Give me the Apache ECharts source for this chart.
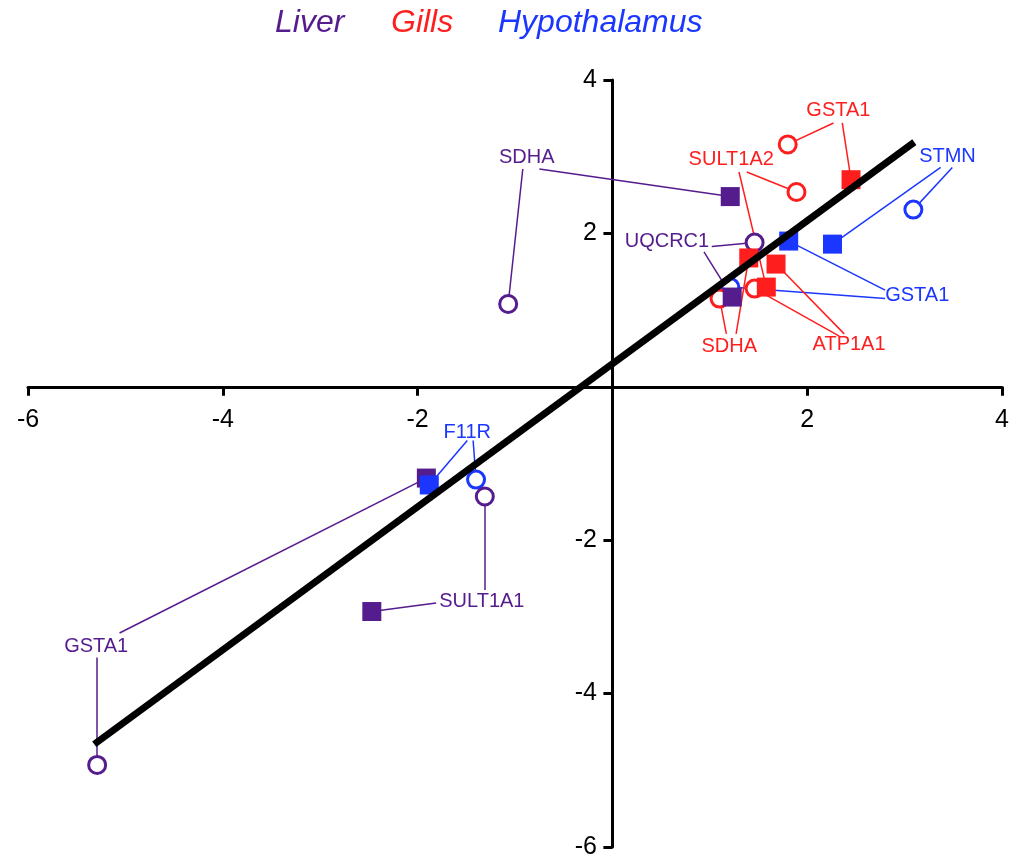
<!DOCTYPE html>
<html>
<head>
<meta charset="utf-8">
<script src="https://cdn.jsdelivr.net/npm/echarts@6/dist/echarts.min.js"></script>
<style>
html,body{margin:0;padding:0;background:#fff;}
#chart{width:1018px;height:861px;}
</style>
</head>
<body>
<div id="chart"></div>
<script>
// ---------------- DATA ----------------
const TISSUES = ['Liver', 'Gills', 'Hypothalamus'];

// Liver
const LIVER_GENES   = ['SDHA', 'UQCRC1', 'GSTA1', 'SULT1A1'];
const LIVER_SQUARE  = [[1.21, 2.48], [1.23, 1.17], [-1.91, -1.19], [-2.47, -2.93]];
const LIVER_CIRCLE  = [[-1.07, 1.08], [1.46, 1.88], [-5.29, -4.93], [-1.31, -1.43]];
// annotation anchors (data units)
const LIVER_LABEL_AT = [[-0.88, 2.99], [0.56, 1.89], [-5.30, -3.39], [-1.34, -2.80]];
const LIVER_LEAD_SQ  = [[-0.75, 2.84], [0.94, 1.76], [-5.06, -3.21], [-1.81, -2.82]];
const LIVER_LEAD_CI  = [[-0.92, 2.84], [1.02, 1.83], [-5.29, -3.53], [-1.31, -2.65]];

// Gills
const GILLS_GENES   = ['GSTA1', 'SULT1A2', 'SDHA', 'ATP1A1'];
const GILLS_SQUARE  = [[2.45, 2.70], [1.58, 1.30], [1.40, 1.68], [1.68, 1.60]];
const GILLS_CIRCLE  = [[1.80, 3.16], [1.89, 2.54], [1.10, 1.15], [1.46, 1.28]];
const GILLS_LABEL_AT = [[2.32, 3.60], [1.22, 2.96], [1.20, 0.52], [2.43, 0.55]];
const GILLS_LEAD_SQ  = [[2.36, 3.44], [1.30, 2.80], [1.27, 0.69], [2.38, 0.69]];
const GILLS_LEAD_CI  = [[2.27, 3.44], [1.38, 2.80], [1.17, 0.69], [2.33, 0.66]];

// Hypothalamus
const HYPO_GENES    = ['STMN', 'GSTA1', 'F11R'];
const HYPO_SQUARE   = [[2.26, 1.86], [1.81, 1.90], [-1.88, -1.28]];
const HYPO_CIRCLE   = [[3.09, 2.31], [1.21, 1.30], [-1.40, -1.21]];
const HYPO_LABEL_AT = [[3.44, 3.00], [3.13, 1.19], [-1.49, -0.59]];
const HYPO_LEAD_SQ  = [[3.37, 2.86], [2.80, 1.26], [-1.49, -0.70]];
const HYPO_LEAD_CI  = [[3.49, 2.86], [2.80, 1.15], [-1.43, -0.70]];

// fitted line end points
const FIT_LINE = [[-5.32, -4.66], [3.10, 3.19]];

// axes
const X_MIN = -6, X_MAX = 4, Y_MIN = -6, Y_MAX = 4, TICK_STEP = 2;
const X_TICK_LABELS = [-6, -4, -2, 2, 4];
const Y_TICK_LABELS = [-6, -4, -2, 2, 4];

// ---------------- STYLE ----------------
const COLORS = { Liver: '#551C8E', Gills: '#FF1E1E', Hypothalamus: '#1B37FF' };
const FONT = '"Liberation Sans", Arial, sans-serif';

const groups = [
  { name: 'Hypothalamus', genes: HYPO_GENES, sq: HYPO_SQUARE, ci: HYPO_CIRCLE, lab: HYPO_LABEL_AT, lsq: HYPO_LEAD_SQ, lci: HYPO_LEAD_CI },
  { name: 'Gills', genes: GILLS_GENES, sq: GILLS_SQUARE, ci: GILLS_CIRCLE, lab: GILLS_LABEL_AT, lsq: GILLS_LEAD_SQ, lci: GILLS_LEAD_CI },
  { name: 'Liver', genes: LIVER_GENES, sq: LIVER_SQUARE, ci: LIVER_CIRCLE, lab: LIVER_LABEL_AT, lsq: LIVER_LEAD_SQ, lci: LIVER_LEAD_CI }
];

const noStroke = { textBorderWidth: 0, textBorderColor: 'transparent', textShadowBlur: 0, opacity: 1 };
const textOnly = { opacity: 1, color: 'transparent' };
const series = [];

// leader lines
const leaderData = [];
groups.forEach(g => {
  g.genes.forEach((gene, i) => {
    leaderData.push({ coords: [g.lsq[i], g.sq[i]], lineStyle: { color: COLORS[g.name] } });
    leaderData.push({ coords: [g.lci[i], g.ci[i]], lineStyle: { color: COLORS[g.name] } });
  });
});
series.push({
  type: 'lines', coordinateSystem: 'cartesian2d', z: 2, silent: true,
  lineStyle: { width: 1.5, opacity: 1, curveness: 0 },
  data: leaderData
});

// open circles
groups.forEach(g => {
  series.push({
    type: 'scatter', name: g.name + ' circle', z: 3, symbol: 'circle', symbolSize: 17,
    itemStyle: { color: '#ffffff', borderColor: COLORS[g.name], borderWidth: 3, opacity: 1 },
    data: g.ci
  });
});
// filled squares (liver first so others overlap it)
['Liver', 'Hypothalamus', 'Gills'].forEach(n => {
  const g = groups.find(q => q.name === n);
  series.push({
    type: 'scatter', name: g.name + ' square', z: 4, symbol: 'rect', symbolSize: 19,
    itemStyle: { color: COLORS[g.name], opacity: 1 },
    data: g.sq
  });
});

// fitted line
series.push({
  type: 'line', z: 5, symbol: 'none', silent: true,
  lineStyle: { color: '#000', width: 7 },
  data: FIT_LINE
});

// gene labels
groups.forEach(g => {
  series.push({
    type: 'scatter', z: 6, symbolSize: 1, silent: true,
    itemStyle: textOnly,
    label: Object.assign({
      show: true, position: 'inside', formatter: p => p.name,
      color: COLORS[g.name], fontSize: 20, fontFamily: FONT
    }, noStroke),
    data: g.genes.map((gene, i) => ({ name: gene, value: g.lab[i] }))
  });
});

// tick labels that sit next to the axes crossing at zero
series.push({
  type: 'scatter', z: 6, symbolSize: 1, silent: true,
  itemStyle: textOnly,
  label: Object.assign({
    show: true, position: 'bottom', distance: 20, formatter: p => String(p.value[0]),
    color: '#000', fontSize: 25, fontFamily: FONT
  }, noStroke),
  data: X_TICK_LABELS.map(v => [v, 0])
});
series.push({
  type: 'scatter', z: 6, symbolSize: 1, silent: true,
  itemStyle: textOnly,
  label: Object.assign({
    show: true, position: 'left', distance: 15, formatter: p => String(p.value[1]),
    color: '#000', fontSize: 25, fontFamily: FONT
  }, noStroke),
  data: Y_TICK_LABELS.map(v => [0, v])
});

const axisCommon = {
  type: 'value',
  interval: TICK_STEP,
  splitLine: { show: false },
  axisLine: { onZero: true, lineStyle: { color: '#000', width: 3 } },
  axisTick: { show: true, length: 9, lineStyle: { color: '#000', width: 3 } },
  axisLabel: { show: false }
};

const legendX = [275, 391, 498];
const option = {
  animation: false,
  backgroundColor: '#fff',
  grid: { left: 28, right: 16, top: 80, bottom: 14, containLabel: false, outerBoundsMode: 'none' },
  xAxis: Object.assign({}, axisCommon, { min: X_MIN, max: X_MAX }),
  yAxis: Object.assign({}, axisCommon, { min: Y_MIN, max: Y_MAX }),
  graphic: TISSUES.map((t, i) => ({
    type: 'text', left: legendX[i], top: 7,
    style: { text: t, fill: COLORS[t], font: 'italic 32px ' + FONT }
  })),
  series: series
};

const chart = echarts.init(document.getElementById('chart'), null, { renderer: 'canvas' });
chart.setOption(option);
</script>
</body>
</html>
